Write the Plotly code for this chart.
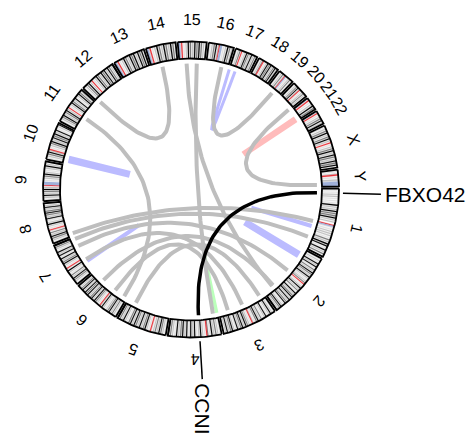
import numpy as np
import plotly.graph_objects as go

# chromosome ideogram (hg19 lengths, Mb)
chrom_names = ["1", "2", "3", "4", "5", "6", "7", "8", "9", "10", "11", "12",
               "13", "14", "15", "16", "17", "18", "19", "20", "21", "22", "X", "Y"]
chrom_len = [249.25, 243.20, 198.02, 191.15, 180.92, 171.12, 159.14, 146.36,
             141.21, 135.53, 135.01, 133.85, 115.17, 107.35, 102.53, 90.35,
             81.20, 78.08, 59.13, 63.03, 48.13, 51.30, 155.27, 59.37]

# simplified giemsa banding, one char per band
# 0 gneg, 1 gpos25, 2 gpos50, 3 gpos75, 4 gpos100, a acen, v gvar, s stalk
chrom_bands = [
    "0101020201010104020204030304020200" + "a" + "v10102020201030204040104020301",
    "01020104020401030204030204020102030" + "a" + "010204020301040203040204020304010204030204",
    "0102040201040201030204030102" + "a" + "0102030402040302040102040302040201",
    "01020302040103" + "a" + "01020402010402040104020403020401020304",
    "0102030402030201" + "a" + "010204030204020304020403010204020304",
    "0102030204030201020402" + "a" + "01020304020403020403040204030201",
    "01020304020301020401" + "a" + "0102040302040104020401020304",
    "01020304020301" + "a" + "0102040201040203040302040201",
    "010204020304020" + "a" + "vvv01020304020102040201",
    "0102030402" + "a" + "010203040204030402040102040",
    "01020304020304020" + "a" + "01020403020401020403021",
    "01020304020" + "a" + "01020403020403040204030204",
    "ss1" + "a" + "01020403020403040204030401",
    "ss1" + "a" + "0102040302040302040302",
    "ss1" + "a" + "0102040302040304030201",
    "0102030402" + "a" + "vv01020403021",
    "0102030" + "a" + "010204030204020301",
    "010203" + "a" + "0102040304020304021",
    "01020302" + "a" + "v010203010",
    "0102030402" + "a" + "0102030201",
    "s1" + "a" + "010204031",
    "s1" + "a" + "01020304021",
    "01020304020304020" + "a" + "010203040204030204030401",
    "0102" + "a" + "01021vvvv",
]
stain_colors = {"0": "#FFFFFF", "1": "#E2E2E2", "2": "#C2C2C2", "3": "#7A7A7A",
                "4": "#000000", "a": "#E8343A", "v": "#9FB0D8", "s": "#9FB0D8"}

# inter-chromosomal links (grey)
link_chr_a = ["12", "11", "15", "15", "16", "20", "8", "7", "7", "6", "5", "7", "6"]
link_pos_a = [7, 59, 29, 71, 64, 60, 11, 152, 120, 122, 146, 56, 58]
link_chr_b = ["14", "6", "2", "4", "19", "Y", "1", "1", "2", "2", "3", "3", "3"]
link_pos_b = [43, 13, 201, 18, 29, 52, 135, 203, 110, 196, 17, 97, 160]

# intra-chromosomal links (coloured)
intra_chr = ["10", "17", "21", "2", "1", "4", "7"]
intra_pos_a = [18, 0.3, 38, 29, 156, 1, 48]
intra_pos_b = [20, 25.6, 40, 31, 157, 3, 50]
intra_color = ["#BBBBFF", "#BBBBFF", "#FFBBBB", "#BBBBFF", "#BBBBFF", "#BBFFBB", "#BBBBFF"]
intra_width = [7, 3, 6, 7, 4, 3, 4]

# highlighted gene pair
gene_names = ["FBXO42", "CCNI"]
gene_chr = ["1", "4"]
gene_pos = [16.58, 77.97]

CX, CY = 191, 189.5
R_OUT, R_IN, R_LINK = 148, 131, 126
GAP, START = 0.8, -0.4

deg_per_mb = (360 - GAP * len(chrom_names)) / sum(chrom_len)
chrom_start = {}
a = START
for n, L in zip(chrom_names, chrom_len):
    chrom_start[n] = a
    a += L * deg_per_mb + GAP


def ang(ch, pos):
    return chrom_start[ch] + pos * deg_per_mb


def xy(r, a):
    rad = np.radians(a)
    return CX + r * np.cos(rad), CY + r * np.sin(rad)


def arc(r, a0, a1):
    n = max(2, int(abs(a1 - a0)) + 2)
    t = np.linspace(a0, a1, n)
    x, y = xy(r, t)
    return list(x), list(y)


def bezier(a0, a1, n=60):
    x0, y0 = xy(R_LINK, a0)
    x1, y1 = xy(R_LINK, a1)
    t = np.linspace(0, 1, n)
    bx = (1 - t) ** 2 * x0 + 2 * t * (1 - t) * CX + t ** 2 * x1
    by = (1 - t) ** 2 * y0 + 2 * t * (1 - t) * CY + t ** 2 * y1
    return list(bx), list(by)


fig = go.Figure()

# bands
polys = {k: ([], []) for k in stain_colors}
for n, L, s in zip(chrom_names, chrom_len, chrom_bands):
    nb = len(s)
    for i, c in enumerate(s):
        a0 = ang(n, L * i / nb)
        a1 = ang(n, L * (i + 1) / nb)
        ox, oy = arc(R_OUT, a0, a1)
        ix, iy = arc(R_IN, a1, a0)
        px, py = polys[c]
        px += ox + ix + [ox[0], None]
        py += oy + iy + [oy[0], None]
for c, (px, py) in polys.items():
    fig.add_trace(go.Scatter(x=px, y=py, mode="lines", fill="toself",
                             fillcolor=stain_colors[c],
                             line=dict(width=0.3, color=stain_colors[c]),
                             hoverinfo="skip"))

# chromosome outlines
ox_all, oy_all = [], []
for n, L in zip(chrom_names, chrom_len):
    a0, a1 = ang(n, 0), ang(n, L)
    ox, oy = arc(R_OUT, a0, a1)
    ix, iy = arc(R_IN, a1, a0)
    ox_all += ox + ix + [ox[0], None]
    oy_all += oy + iy + [oy[0], None]
fig.add_trace(go.Scatter(x=ox_all, y=oy_all, mode="lines",
                         line=dict(width=1.8, color="black"), hoverinfo="skip"))

# coloured intra links
for ch, p0, p1, col, w in zip(intra_chr, intra_pos_a, intra_pos_b, intra_color, intra_width):
    bx, by = bezier(ang(ch, p0), ang(ch, p1))
    fig.add_trace(go.Scatter(x=bx, y=by, mode="lines",
                             line=dict(width=w, color=col), hoverinfo="skip"))

# grey links
gx, gy = [], []
for ca, pa, cb, pb in zip(link_chr_a, link_pos_a, link_chr_b, link_pos_b):
    bx, by = bezier(ang(ca, pa), ang(cb, pb))
    gx += bx + [None]
    gy += by + [None]
fig.add_trace(go.Scatter(x=gx, y=gy, mode="lines",
                         line=dict(width=4, color="#BEBEBE"), hoverinfo="skip"))

# gene link
ga = [ang(c, p) for c, p in zip(gene_chr, gene_pos)]
bx, by = bezier(ga[0], ga[1])
fig.add_trace(go.Scatter(x=bx, y=by, mode="lines",
                         line=dict(width=3.5, color="black"), hoverinfo="skip"))

annotations = []
# gene labels
for name, a in zip(gene_names, ga):
    lx, ly = xy(np.array([152, 190]), a)
    fig.add_trace(go.Scatter(x=list(lx), y=list(ly), mode="lines",
                             line=dict(width=1.5, color="black"), hoverinfo="skip"))
    tx, ty = xy(193, a)
    if a < 45:
        annotations.append(dict(x=tx, y=ty, text=name, showarrow=False, textangle=0,
                                xanchor="left", yanchor="middle", borderpad=0,
                                font=dict(size=21, color="black")))
    else:
        annotations.append(dict(x=tx, y=ty, text=name, showarrow=False, textangle=90,
                                xanchor="center", yanchor="top", borderpad=0,
                                font=dict(size=21, color="black")))

# chromosome labels
for n, L in zip(chrom_names, chrom_len):
    am = ang(n, L / 2)
    tx, ty = xy(170, am)
    rot = (am + 90) % 360
    if rot > 180:
        rot -= 360
    annotations.append(dict(x=tx, y=ty, text=n, showarrow=False, textangle=rot,
                            xanchor="center", yanchor="middle",
                            font=dict(size=16, color="black")))

fig.update_layout(
    width=471, height=437, autosize=False,
    margin=dict(l=0, r=0, t=0, b=0),
    paper_bgcolor="white", plot_bgcolor="white",
    showlegend=False,
    font=dict(family="Liberation Sans, Arial, sans-serif"),
    xaxis=dict(range=[0, 471], visible=False, fixedrange=True),
    yaxis=dict(range=[437, 0], visible=False, fixedrange=True),
    annotations=annotations,
)

fig.write_html("out.html", config={"displayModeBar": False},
               post_script="document.body.style.margin='0';")
